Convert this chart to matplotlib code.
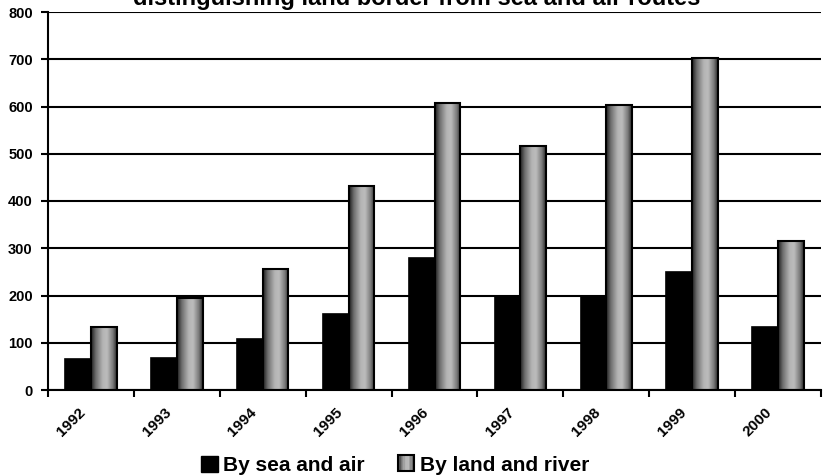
import matplotlib
matplotlib.use("Agg")
import matplotlib.pyplot as plt
import numpy as np
from matplotlib.colors import LinearSegmentedColormap
from matplotlib.patches import Patch
from matplotlib.transforms import ScaledTranslation

# -------------------------
# Data
# -------------------------

years = ["1992", "1993", "1994", "1995", "1996", "1997", "1998", "1999", "2000"]
sea_air = [66, 68, 108, 161, 280, 200, 200, 249, 133]
land_river = [133, 194, 256, 432, 608, 517, 603, 703, 315]

title_line = "distinguishing land border from sea and air routes"
series_names = ["By sea and air", "By land and river"]

plt.rcParams["font.family"] = ["Liberation Sans", "DejaVu Sans"]
plt.rcParams["font.weight"] = "bold"

fig = plt.figure(figsize=(8.23, 4.76), dpi=100)
ax = fig.add_axes([48 / 823, 1 - 390 / 476, (821 - 48) / 823, (390 - 12) / 476])

x = np.arange(len(years))
w = 0.3

ax.bar(x - w / 2, sea_air, width=w, color="black", edgecolor="black",
       linewidth=1.2, zorder=3)
gray_bars = ax.bar(x + w / 2, land_river, width=w, facecolor="none",
                   edgecolor="black", linewidth=1.5, zorder=4)

# cylinder-like shading on the grey bars
shade = LinearSegmentedColormap.from_list(
    "shade",
    [(0.0, "#1e1e1e"), (0.18, "#6e6e6e"), (0.45, "#b4b4b4"),
     (0.62, "#bcbcbc"), (0.85, "#7a7a7a"), (1.0, "#2a2a2a")])
grad = np.linspace(0, 1, 64).reshape(1, -1)
for bar in gray_bars:
    x0, h = bar.get_x(), bar.get_height()
    im = ax.imshow(grad, extent=[x0, x0 + bar.get_width(), 0, h],
                   cmap=shade, aspect="auto", zorder=3.5,
                   interpolation="bilinear")
    im.set_clip_path(bar)

ax.set_xlim(-0.5, len(years) - 0.5)
ax.set_ylim(0, 800)
ax.set_yticks(np.arange(0, 801, 100))
ax.grid(axis="y", color="black", linewidth=1.5, zorder=1)
ax.set_axisbelow(True)

for side in ["top", "right"]:
    ax.spines[side].set_visible(False)
for side in ["left", "bottom"]:
    ax.spines[side].set_linewidth(1.5)
    ax.spines[side].set_zorder(5)

ax.tick_params(axis="y", length=5, width=1.5, pad=6, labelsize=10.5)

# tick marks between categories, labels under the groups
ax.set_xticks(np.arange(-0.5, len(years), 1.0), minor=True)
ax.set_xticks(x)
ax.set_xticklabels(years, rotation=45, ha="right", va="top",
                   rotation_mode="anchor", fontsize=11)
ax.tick_params(axis="x", which="major", length=0, pad=11)
ax.tick_params(axis="x", which="minor", length=5, width=1.5)
offset = ScaledTranslation(-13 / 100, 0, fig.dpi_scale_trans)
for lbl in ax.get_xticklabels():
    lbl.set_transform(lbl.get_transform() + offset)

fig.text(417 / 823, 1 - 5 / 476, title_line, ha="center", va="baseline",
         fontsize=17, fontweight="bold")

# legend, grey swatch shaded like the bars
class ShadedHandler:
    def legend_artist(self, legend, orig_handle, fontsize, handlebox):
        x0, y0 = handlebox.xdescent, handlebox.ydescent
        wd, ht = handlebox.width, handlebox.height
        rect = plt.Rectangle((x0, y0), wd, ht, facecolor="none",
                             edgecolor="black", linewidth=1.5,
                             transform=handlebox.get_transform())
        strips = 12
        for i in range(strips):
            s = plt.Rectangle((x0 + wd * i / strips, y0), wd / strips, ht,
                              facecolor=shade((i + 0.5) / strips),
                              edgecolor="none",
                              transform=handlebox.get_transform())
            handlebox.add_artist(s)
        handlebox.add_artist(rect)
        return rect

handles = [Patch(facecolor="black", edgecolor="black"),
           Patch(facecolor="#a8a8a8", edgecolor="black", linewidth=1.5)]
fig.legend(handles, series_names, loc="lower center",
           bbox_to_anchor=(395 / 823, -0.038), ncol=2, frameon=False,
           prop={"size": 15, "weight": "bold"}, handlelength=0.8,
           handleheight=0.8, handletextpad=0.25, columnspacing=1.6,
           handler_map={handles[1]: ShadedHandler()})

fig.savefig("out.png", dpi=100)
